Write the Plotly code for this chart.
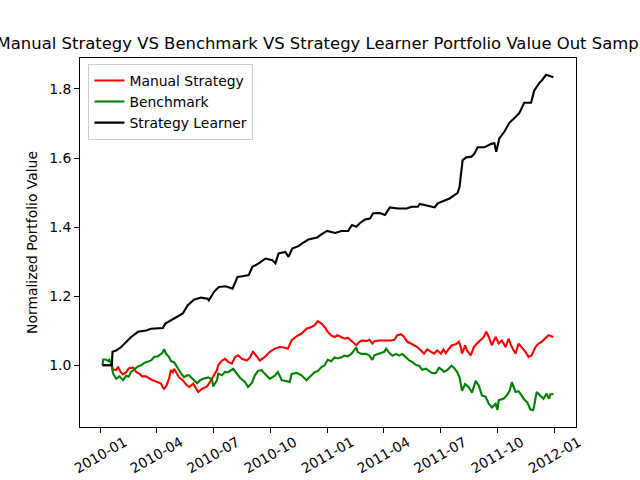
import pandas as pd
import plotly.graph_objects as go

start_date = "2010-01-01"

title_text = "Manual Strategy VS Benchmark VS Strategy Learner Portfolio Value Out Sample"
y_label = "Normalized Portfolio Value"
series_names = ["Manual Strategy", "Benchmark", "Strategy Learner"]

# days since 2010-01-01 and normalized values
manual_days = [3,18,20,25,28,32,36,41,45,52,57,62,67,73,81,89,97,100,102,106,
               110,113,116,118,124,126,132,137,142,149,155,157,163,171,176,181,187,189,195,200,
               205,211,216,221,227,235,240,245,251,256,264,272,280,288,296,301,307,315,323,331,
               339,344,349,355,360,365,371,376,381,387,392,397,403,408,411,416,421,427,432,437,
               440,448,467,472,477,483,488,493,499,504,509,515,520,525,531,536,541,547,551,555,
               560,565,571,576,579,581,586,589,595,600,605,611,616,620,624,629,635,640,645,651,
               656,661,667,672,677,683,688,693,699,704,709,715,720,728]
manual_vals = [1.000,1.000,0.988,0.986,0.996,0.981,0.974,0.980,0.991,0.994,
               0.981,0.976,0.968,0.968,0.959,0.954,0.947,0.936,0.932,0.942,
               0.962,0.986,0.980,0.990,0.971,0.965,0.957,0.945,0.937,0.947,
               0.928,0.923,0.932,0.939,0.952,0.966,0.986,1.000,1.014,1.019,
               1.010,1.005,1.024,1.029,1.019,1.014,1.023,1.039,1.024,1.014,
               1.024,1.039,1.048,1.053,1.051,1.048,1.072,1.084,1.092,1.106,
               1.111,1.116,1.128,1.121,1.111,1.097,1.086,1.082,1.087,1.082,
               1.077,1.080,1.072,1.063,1.058,1.068,1.072,1.070,1.074,1.063,
               1.070,1.072,1.072,1.074,1.087,1.090,1.082,1.068,1.063,1.058,
               1.053,1.043,1.034,1.046,1.039,1.034,1.043,1.034,1.046,1.035,
               1.048,1.058,1.061,1.068,1.053,1.034,1.058,1.043,1.029,1.053,
               1.063,1.072,1.082,1.097,1.082,1.058,1.082,1.063,1.072,1.053,
               1.077,1.053,1.034,1.063,1.053,1.039,1.024,1.029,1.053,1.063,
               1.068,1.077,1.087,1.082]

bench_days = [3,4,8,12,14,17,20,25,30,36,41,45,49,54,60,65,70,75,81,86,
              92,97,100,102,105,110,113,118,121,124,129,134,139,142,149,155,160,165,173,179,
              181,187,189,195,200,205,213,219,224,232,237,243,248,253,259,261,267,272,280,285,
              291,299,304,307,315,323,331,336,344,349,355,360,365,371,376,381,387,392,397,403,
              408,411,413,419,427,432,437,440,448,456,459,464,469,475,480,485,491,496,501,507,
              512,517,523,528,533,539,544,549,552,557,564,568,573,577,581,586,592,597,603,608,
              613,619,624,629,635,638,640,648,653,658,661,667,672,678,680,686,691,695,697,701,
              707,712,717,721,723,728]
bench_vals = [1.000,1.017,1.017,1.012,1.016,1.003,0.976,0.961,0.968,0.957,
              0.970,0.967,0.981,0.988,0.997,1.000,1.007,1.010,1.014,1.024,
              1.026,1.033,1.038,1.047,1.034,1.024,1.012,1.009,1.000,0.991,
              0.977,0.966,0.971,0.971,0.959,0.948,0.957,0.961,0.965,0.959,
              0.939,0.957,0.976,0.971,0.981,0.980,0.990,0.977,0.964,0.952,
              0.937,0.949,0.971,0.984,0.986,0.981,0.971,0.961,0.970,0.981,
              0.957,0.954,0.952,0.975,0.978,0.971,0.957,0.966,0.980,0.983,
              0.995,1.000,1.016,1.012,1.023,1.020,1.023,1.028,1.026,1.033,
              1.045,1.052,1.039,1.033,1.033,1.028,1.016,1.029,1.034,1.039,
              1.048,1.036,1.028,1.033,1.028,1.033,1.023,1.014,1.010,1.001,
              0.999,0.987,0.990,0.983,0.977,0.978,0.993,0.987,0.981,0.986,
              0.999,0.993,0.981,0.965,0.926,0.946,0.936,0.921,0.955,0.941,
              0.913,0.909,0.889,0.878,0.889,0.871,0.899,0.904,0.913,0.928,
              0.951,0.923,0.925,0.909,0.903,0.892,0.872,0.870,0.883,0.923,
              0.913,0.903,0.918,0.903,0.916,0.917]

learner_days = [3,18,19,25,33,41,49,60,73,81,100,104,113,121,132,140,150,161,172,174,
                182,190,201,212,220,228,238,244,254,265,276,281,286,297,302,308,318,324,334,348,
                353,364,377,387,398,404,411,417,425,433,438,449,457,465,478,492,500,510,513,526,
                537,542,553,561,574,577,582,588,596,601,606,617,628,633,636,641,649,657,665,673,
                681,692,697,705,710,716,728]
learner_vals = [1.000,1.000,1.039,1.043,1.053,1.068,1.082,1.097,1.101,1.106,
                1.108,1.121,1.130,1.140,1.150,1.174,1.190,1.196,1.193,1.188,
                1.212,1.227,1.229,1.222,1.256,1.258,1.261,1.285,1.295,1.309,
                1.304,1.295,1.324,1.328,1.314,1.338,1.345,1.353,1.364,1.370,
                1.377,1.389,1.383,1.389,1.389,1.406,1.401,1.412,1.422,1.425,
                1.440,1.441,1.435,1.457,1.454,1.454,1.459,1.459,1.467,1.462,
                1.457,1.469,1.476,1.483,1.499,1.517,1.594,1.602,1.604,1.613,
                1.631,1.631,1.641,1.643,1.618,1.657,1.676,1.702,1.715,1.730,
                1.760,1.760,1.795,1.817,1.826,1.841,1.834]

x_tick_dates = ["2010-01-01","2010-04-01","2010-07-01","2010-10-01","2011-01-01",
                "2011-04-01","2011-07-01","2011-10-01","2012-01-01"]
y_tick_vals = [1.0, 1.2, 1.4, 1.6, 1.8]

base = pd.Timestamp(start_date)
def to_dates(days):
    return base + pd.to_timedelta(days, unit="D")

colors = ["#ff0000", "#008000", "#000000"]
all_days = [manual_days, bench_days, learner_days]
all_vals = [manual_vals, bench_vals, learner_vals]

FONT = "DejaVu Sans"
fig = go.Figure()
for name, d, v, c in zip(series_names, all_days, all_vals, colors):
    fig.add_trace(go.Scatter(x=to_dates(d), y=v, mode="lines", name=name,
                             line=dict(color=c, width=2.1)))

# matplotlib-like 5% margins
x_all = pd.concat([pd.Series(to_dates(d)) for d in all_days])
xmin, xmax = x_all.min(), x_all.max()
xm = (xmax - xmin) * 0.05
y_all = [y for v in all_vals for y in v]
ymin, ymax = min(y_all), max(y_all)
ym = (ymax - ymin) * 0.05

fig.update_layout(
    width=640, height=480,
    margin=dict(l=80, r=64, t=58, b=53),
    paper_bgcolor="white", plot_bgcolor="white",
    font=dict(family=FONT, size=13.9, color="black"),
    title=dict(text=title_text, x=325/640, xref="container", xanchor="center",
               y=1-43/480, yref="container", yanchor="middle", automargin=False,
               font=dict(size=16.45, family=FONT, color="black")),
    legend=dict(x=0.017, y=0.984, xanchor="left", yanchor="top",
                bgcolor="rgba(255,255,255,0.8)", bordercolor="#cccccc", borderwidth=1,
                font=dict(size=13.9, family=FONT, color="black")),
    showlegend=True,
)
fig.update_xaxes(range=[xmin - xm, xmax + xm], tickvals=x_tick_dates, tickformat="%Y-%m",
                 tickangle=-30, ticks="outside", ticklen=5, tickwidth=1, tickcolor="black",
                 showline=True, linecolor="black", linewidth=1, mirror=True,
                 showgrid=False, zeroline=False, ticklabelshift=24, ticklabelstandoff=-4,
                 automargin=False,
                 tickfont=dict(size=13.9, family=FONT, color="black"))
fig.update_yaxes(range=[ymin - ym, ymax + ym], tickvals=y_tick_vals, tickformat=".1f",
                 ticks="outside", ticklen=5, tickwidth=1, tickcolor="black",
                 showline=True, linecolor="black", linewidth=1, mirror=True,
                 showgrid=False, zeroline=False, automargin=False,
                 title=dict(text=y_label, standoff=8, font=dict(size=13.9, family=FONT, color="black")),
                 tickfont=dict(size=13.9, family=FONT, color="black"))

fig.write_html("out.html", config={"displayModeBar": False},
               post_script="document.body.style.margin='0';document.body.style.overflow='hidden';")
